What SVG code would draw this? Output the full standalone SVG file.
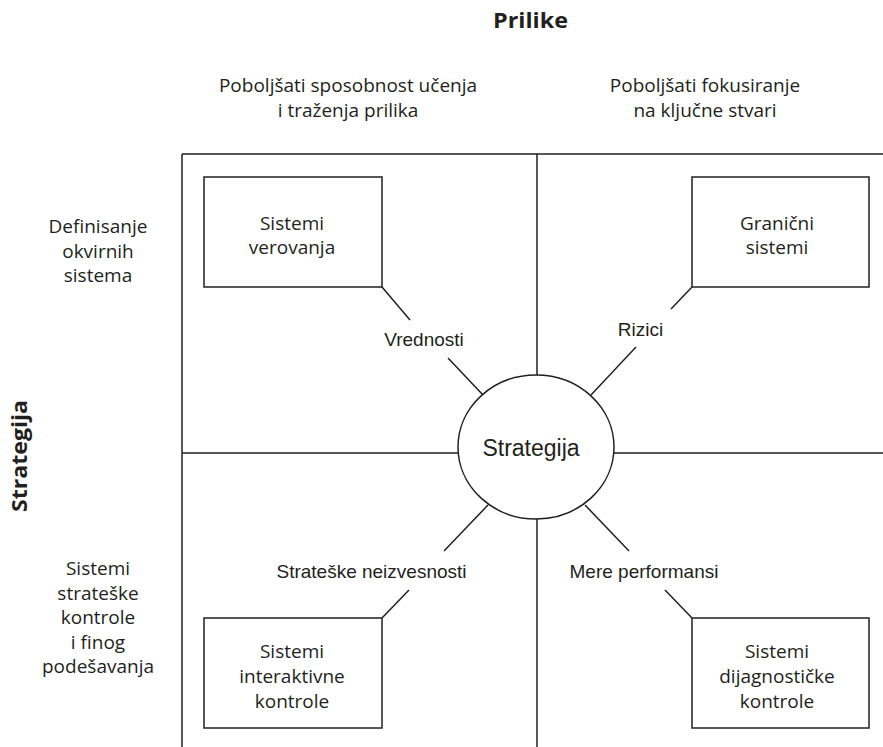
<svg xmlns="http://www.w3.org/2000/svg" width="883" height="747" viewBox="0 0 883 747">
<style>
  .ln { stroke: #231f20; stroke-width: 1.5; fill: none; }
  .box { stroke: #231f20; stroke-width: 1.5; fill: #ffffff; }
  .my { font-family: "Open Sans", "Noto Sans", sans-serif; font-size: 19px; fill: #231f20; text-anchor: middle; }
  .ar { font-family: "Liberation Sans", Arial, sans-serif; font-size: 19px; fill: #231f20; text-anchor: middle; }
  .hd { font-family: "Open Sans", "Noto Sans", sans-serif; font-size: 22px; font-weight: bold; fill: #231f20; text-anchor: middle; }
</style>
<rect width="883" height="747" fill="#ffffff"/>

<g id="headings">
  <text class="hd" x="530.5" y="28" textLength="75" lengthAdjust="spacingAndGlyphs">Prilike</text>
  <text class="hd" x="0" y="0" transform="translate(27,456) rotate(-90)" textLength="112" lengthAdjust="spacingAndGlyphs">Strategija</text>
  <text class="my" x="348" y="91.5">Poboljšati sposobnost učenja</text>
  <text class="my" x="348" y="117">i traženja prilika</text>
  <text class="my" x="705" y="91.5">Poboljšati fokusiranje</text>
  <text class="my" x="705" y="117">na ključne stvari</text>
  <text class="my" x="98" y="233">Definisanje</text>
  <text class="my" x="98" y="257.5">okvirnih</text>
  <text class="my" x="98" y="282">sistema</text>
  <text class="my" x="98" y="575">Sistemi</text>
  <text class="my" x="98" y="599.5">strateške</text>
  <text class="my" x="98" y="624">kontrole</text>
  <text class="my" x="98" y="648.5">i finog</text>
  <text class="my" x="98" y="673">podešavanja</text>
</g>

<g id="grid">
  <line class="ln" x1="182" y1="154" x2="883" y2="154"/>
  <line class="ln" x1="182" y1="154" x2="182" y2="747"/>
  <line class="ln" x1="537" y1="154" x2="537" y2="375"/>
  <line class="ln" x1="537" y1="519" x2="537" y2="747"/>
  <line class="ln" x1="182" y1="453" x2="458" y2="453"/>
  <line class="ln" x1="614" y1="453" x2="883" y2="453"/>
</g>

<g id="connectors">
  <line class="ln" x1="382" y1="287" x2="410" y2="320"/>
  <line class="ln" x1="448" y1="358" x2="483" y2="395"/>
  <line class="ln" x1="692" y1="287" x2="671" y2="309"/>
  <line class="ln" x1="636" y1="347" x2="591" y2="395"/>
  <line class="ln" x1="382" y1="618" x2="409" y2="590"/>
  <line class="ln" x1="444" y1="551" x2="488" y2="505"/>
  <line class="ln" x1="692" y1="618" x2="665" y2="590"/>
  <line class="ln" x1="629" y1="551" x2="585" y2="505"/>
  <text class="ar" x="424" y="346">Vrednosti</text>
  <text class="ar" x="640.5" y="336">Rizici</text>
  <text class="ar" x="371.5" y="578">Strateške neizvesnosti</text>
  <text class="ar" x="644" y="578">Mere performansi</text>
</g>

<g id="strategija">
  <ellipse class="box" cx="536" cy="447" rx="78" ry="72"/>
  <text class="ar" x="531" y="456" style="font-size:23px">Strategija</text>
</g>

<g id="sistemi-verovanja">
  <rect class="box" x="204" y="177" width="178" height="110"/>
  <text class="my" x="292" y="230">Sistemi</text>
  <text class="my" x="292" y="254">verovanja</text>
</g>

<g id="granicni-sistemi">
  <rect class="box" x="692" y="177" width="177" height="110"/>
  <text class="my" x="777" y="230">Granični</text>
  <text class="my" x="777" y="254">sistemi</text>
</g>

<g id="sistemi-interaktivne-kontrole">
  <rect class="box" x="204" y="618" width="178" height="110"/>
  <text class="my" x="292" y="658">Sistemi</text>
  <text class="my" x="292" y="683">interaktivne</text>
  <text class="my" x="292" y="708">kontrole</text>
</g>

<g id="sistemi-dijagnosticke-kontrole">
  <rect class="box" x="692" y="618" width="177" height="110"/>
  <text class="my" x="777" y="658">Sistemi</text>
  <text class="my" x="777" y="683">dijagnostičke</text>
  <text class="my" x="777" y="708">kontrole</text>
</g>
</svg>
